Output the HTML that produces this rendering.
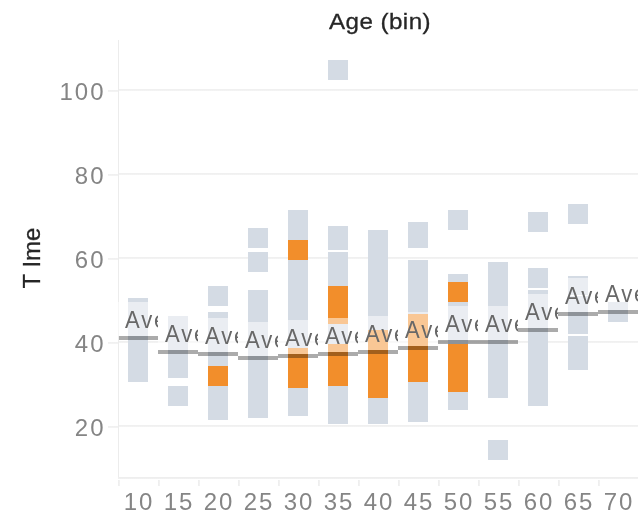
<!DOCTYPE html>
<html><head><meta charset="utf-8"><title>Age (bin)</title>
<style>
html,body{margin:0;padding:0;background:#fff;}
body{width:638px;height:520px;position:relative;overflow:hidden;font-family:"Liberation Sans",sans-serif;}
div{position:absolute;}
.g{background:#d4dbe4;width:20px;}
.o{background:#f28e2b;width:20px;}
.gl{left:119px;width:519px;height:2px;background:linear-gradient(#efefef,#f4f4f4);}
.yt{left:108px;width:10px;height:2px;background:linear-gradient(#efefef,#f4f4f4);}
.yl{left:40px;width:65.5px;text-align:right;font-size:24px;line-height:24px;color:#858585;letter-spacing:2px;}
.xl{width:40px;text-align:center;font-size:24px;line-height:24px;color:#858585;top:490px;letter-spacing:2px;margin-left:1px;}
.xt{top:480px;width:2px;height:6px;background:linear-gradient(90deg,#ededed,#f3f3f3);}
.ov{width:40px;height:34px;background:rgba(255,255,255,0.5);}
.rl{width:40px;height:4px;background:rgba(0,0,0,0.33);}
.lb{width:33px;height:30px;overflow:hidden;white-space:nowrap;font-size:24px;line-height:30px;color:#686868;}
.lb span{display:inline-block;transform:scaleX(0.92);transform-origin:0 0;letter-spacing:2px;}
</style></head><body>

<div class="gl" style="top:89.0px"></div>
<div class="yt" style="top:90.0px"></div>
<div class="gl" style="top:173.0px"></div>
<div class="yt" style="top:174.0px"></div>
<div class="gl" style="top:257.0px"></div>
<div class="yt" style="top:258.0px"></div>
<div class="gl" style="top:341.0px"></div>
<div class="yt" style="top:342.0px"></div>
<div class="gl" style="top:425.0px"></div>
<div class="yt" style="top:426.0px"></div>
<div style="left:118px;top:40px;width:1px;height:439px;background:#ececec"></div>
<div style="left:118px;top:477px;width:520px;height:2px;background:linear-gradient(#ededed,#f2f2f2)"></div>
<div class="xt" style="left:118px"></div>
<div class="xt" style="left:158px"></div>
<div class="xt" style="left:198px"></div>
<div class="xt" style="left:238px"></div>
<div class="xt" style="left:278px"></div>
<div class="xt" style="left:318px"></div>
<div class="xt" style="left:358px"></div>
<div class="xt" style="left:398px"></div>
<div class="xt" style="left:438px"></div>
<div class="xt" style="left:478px"></div>
<div class="xt" style="left:518px"></div>
<div class="xt" style="left:558px"></div>
<div class="xt" style="left:598px"></div>
<div class="yl" style="top:80.0px">100</div>
<div class="yl" style="top:164.0px">80</div>
<div class="yl" style="top:248.0px">60</div>
<div class="yl" style="top:332.0px">40</div>
<div class="yl" style="top:416.0px">20</div>
<div class="xl" style="left:118px">10</div>
<div class="xl" style="left:158px">15</div>
<div class="xl" style="left:198px">20</div>
<div class="xl" style="left:238px">25</div>
<div class="xl" style="left:278px">30</div>
<div class="xl" style="left:318px">35</div>
<div class="xl" style="left:358px">40</div>
<div class="xl" style="left:398px">45</div>
<div class="xl" style="left:438px">50</div>
<div class="xl" style="left:478px">55</div>
<div class="xl" style="left:518px">60</div>
<div class="xl" style="left:558px">65</div>
<div class="xl" style="left:598px">70</div>
<div style="left:279.7px;top:8.3px;width:200px;text-align:center;font-size:22.4px;line-height:28px;color:#262626;-webkit-text-stroke:0.3px #262626;letter-spacing:0.4px;white-space:nowrap;transform:scaleX(1.08)">Age (bin)</div>
<div style="left:-18px;top:243.5px;width:100px;height:28px;text-align:center;font-size:24px;line-height:28px;color:#262626;-webkit-text-stroke:0.3px #262626;transform:rotate(-90deg);white-space:nowrap">T Ime</div>
<div class="g" style="left:128px;top:298px;height:84px"></div>
<div class="g" style="left:168px;top:316px;height:62px"></div>
<div class="g" style="left:168px;top:386px;height:20px"></div>
<div class="g" style="left:208px;top:286px;height:20px"></div>
<div class="g" style="left:208px;top:312px;height:54px"></div>
<div class="o" style="left:208px;top:366px;height:20px"></div>
<div class="g" style="left:208px;top:386px;height:34px"></div>
<div class="g" style="left:248px;top:228px;height:20px"></div>
<div class="g" style="left:248px;top:252px;height:20px"></div>
<div class="g" style="left:248px;top:290px;height:128px"></div>
<div class="g" style="left:288px;top:210px;height:30px"></div>
<div class="o" style="left:288px;top:240px;height:20px"></div>
<div class="g" style="left:288px;top:260px;height:88px"></div>
<div class="o" style="left:288px;top:348px;height:40px"></div>
<div class="g" style="left:288px;top:388px;height:28px"></div>
<div class="g" style="left:328px;top:60px;height:20px"></div>
<div class="g" style="left:328px;top:226px;height:24px"></div>
<div class="g" style="left:328px;top:252px;height:34px"></div>
<div class="o" style="left:328px;top:286px;height:38px"></div>
<div class="g" style="left:328px;top:324px;height:20px"></div>
<div class="o" style="left:328px;top:344px;height:42px"></div>
<div class="g" style="left:328px;top:386px;height:38px"></div>
<div class="g" style="left:368px;top:230px;height:100px"></div>
<div class="o" style="left:368px;top:330px;height:68px"></div>
<div class="g" style="left:368px;top:398px;height:26px"></div>
<div class="g" style="left:408px;top:222px;height:26px"></div>
<div class="g" style="left:408px;top:260px;height:54px"></div>
<div class="o" style="left:408px;top:314px;height:68px"></div>
<div class="g" style="left:408px;top:382px;height:40px"></div>
<div class="g" style="left:448px;top:210px;height:20px"></div>
<div class="g" style="left:448px;top:274px;height:8px"></div>
<div class="o" style="left:448px;top:282px;height:20px"></div>
<div class="g" style="left:448px;top:302px;height:42px"></div>
<div class="o" style="left:448px;top:344px;height:48px"></div>
<div class="g" style="left:448px;top:392px;height:18px"></div>
<div class="g" style="left:488px;top:262px;height:136px"></div>
<div class="g" style="left:488px;top:440px;height:20px"></div>
<div class="g" style="left:528px;top:212px;height:20px"></div>
<div class="g" style="left:528px;top:268px;height:20px"></div>
<div class="g" style="left:528px;top:290px;height:116px"></div>
<div class="g" style="left:568px;top:204px;height:20px"></div>
<div class="g" style="left:568px;top:276px;height:19px"></div>
<div class="g" style="left:568px;top:296px;height:38px"></div>
<div class="g" style="left:568px;top:336px;height:34px"></div>
<div class="g" style="left:608px;top:302px;height:20px"></div>
<div class="ov" style="left:118px;top:302px"></div>
<div class="rl" style="left:119px;width:39px;top:336px"></div>
<div class="lb" style="left:125px;top:305px"><span>Average</span></div>
<div class="ov" style="left:158px;top:316px"></div>
<div class="rl" style="left:158px;top:350px"></div>
<div class="lb" style="left:165px;top:319px"><span>Average</span></div>
<div class="ov" style="left:198px;top:318px"></div>
<div class="rl" style="left:198px;top:352px"></div>
<div class="lb" style="left:205px;top:321px"><span>Average</span></div>
<div class="ov" style="left:238px;top:322px"></div>
<div class="rl" style="left:238px;top:356px"></div>
<div class="lb" style="left:245px;top:325px"><span>Average</span></div>
<div class="ov" style="left:278px;top:320px"></div>
<div class="rl" style="left:278px;top:354px"></div>
<div class="lb" style="left:285px;top:323px"><span>Average</span></div>
<div class="ov" style="left:318px;top:318px"></div>
<div class="rl" style="left:318px;top:352px"></div>
<div class="lb" style="left:325px;top:321px"><span>Average</span></div>
<div class="ov" style="left:358px;top:316px"></div>
<div class="rl" style="left:358px;top:350px"></div>
<div class="lb" style="left:365px;top:319px"><span>Average</span></div>
<div class="ov" style="left:398px;top:312px"></div>
<div class="rl" style="left:398px;top:346px"></div>
<div class="lb" style="left:405px;top:315px"><span>Average</span></div>
<div class="ov" style="left:438px;top:306px"></div>
<div class="rl" style="left:438px;top:340px"></div>
<div class="lb" style="left:445px;top:309px"><span>Average</span></div>
<div class="ov" style="left:478px;top:306px"></div>
<div class="rl" style="left:478px;top:340px"></div>
<div class="lb" style="left:485px;top:309px"><span>Average</span></div>
<div class="ov" style="left:518px;top:294px"></div>
<div class="rl" style="left:518px;top:328px"></div>
<div class="lb" style="left:525px;top:297px"><span>Average</span></div>
<div class="ov" style="left:558px;top:278px"></div>
<div class="rl" style="left:558px;top:312px"></div>
<div class="lb" style="left:565px;top:281px"><span>Average</span></div>
<div class="ov" style="left:598px;top:276px"></div>
<div class="rl" style="left:598px;top:310px"></div>
<div class="lb" style="left:605px;top:279px"><span>Average</span></div>
</body></html>
